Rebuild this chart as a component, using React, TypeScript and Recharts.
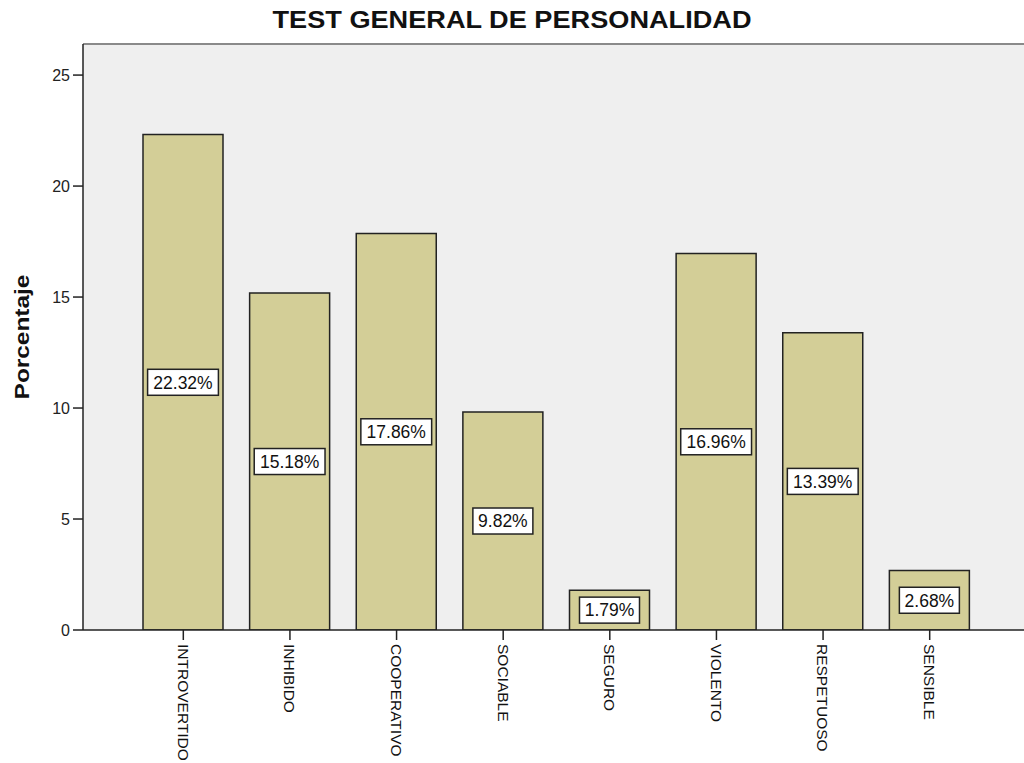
import { BarChart, Bar, XAxis, YAxis, CartesianGrid, ReferenceLine, LabelList } from "recharts"

const categories = ["INTROVERTIDO", "INHIBIDO", "COOPERATIVO", "SOCIABLE", "SEGURO", "VIOLENTO", "RESPETUOSO", "SENSIBLE"]
const percentages = [22.32, 15.18, 17.86, 9.82, 1.79, 16.96, 13.39, 2.68]
const yTicks = [0, 5, 10, 15, 20, 25]
const yMax = 26.4

const data = categories.map((name, i) => ({ name, value: percentages[i] }))

const FONT = "'Liberation Sans', Arial, sans-serif"

function XTick({ x, y, payload }: any) {
  return (
    <g transform={`translate(${x},${y})`}>
      <text transform="rotate(90)" x={2} y={0} dy="0.36em" textAnchor="start" fontSize={15.5} fill="#111" fontFamily={FONT}>
        {payload.value}
      </text>
    </g>
  )
}

function ValueBox(props: any) {
  const { x, y, width, height, value } = props
  const text = `${Number(value).toFixed(2)}%`
  const w = text.length * 10.8 + 6
  const h = 26
  const cx = x + width / 2
  const cy = y + height / 2
  return (
    <g>
      <rect x={cx - w / 2} y={cy - h / 2} width={w} height={h} fill="#fff" stroke="#222" strokeWidth={1.5} />
      <text x={cx} y={cy} dy="0.36em" textAnchor="middle" fontSize={17.5} fill="#111" fontFamily={FONT}>
        {text}
      </text>
    </g>
  )
}

export default function App() {
  return (
    <div style={{ position: "absolute", left: 0, top: 0, width: 1024, height: 763, overflow: "hidden", background: "#fff", fontFamily: FONT }}>
      <div style={{ position: "absolute", left: 0, top: 0 }}>
        <BarChart width={1060} height={763} data={data} margin={{ top: 44, right: 0, bottom: 123, left: 35 }} barSize={80}>
          <CartesianGrid fill="#EFEFEF" horizontal={false} vertical={false} />
          <ReferenceLine y={yMax} stroke="#8a8a8a" strokeWidth={2} />
          <XAxis
            dataKey="name"
            interval={0}
            height={10}
            tick={<XTick />}
            tickSize={10}
            stroke="#222"
            strokeWidth={1.5}
            padding={{ left: 47, right: 77 }}
          />
          <YAxis
            domain={[0, yMax]}
            ticks={yTicks}
            width={48}
            tickSize={10}
            tickMargin={3}
            stroke="#222"
            strokeWidth={1.5}
            tick={{ fontSize: 16, fill: "#222", fontFamily: FONT }}
            allowDataOverflow
          />
          <Bar dataKey="value" fill="#D3CE97" stroke="#222" strokeWidth={1.5} isAnimationActive={false}>
            <LabelList dataKey="value" content={<ValueBox />} />
          </Bar>
        </BarChart>
      </div>
      <div style={{ position: "absolute", top: 9, left: 0, width: 1024, textAlign: "center", fontSize: 23, lineHeight: "23px", fontWeight: "bold", color: "#111", transform: "translateX(0px) scaleX(1.18)", transformOrigin: "512px 0" }}>
        TEST GENERAL DE PERSONALIDAD
      </div>
      <div style={{ position: "absolute", left: 22, top: 337, transform: "translate(-50%, -50%) rotate(-90deg) scaleX(1.22)", fontSize: 20, lineHeight: "20px", fontWeight: "bold", color: "#111", whiteSpace: "nowrap" }}>
        Porcentaje
      </div>
    </div>
  )
}
